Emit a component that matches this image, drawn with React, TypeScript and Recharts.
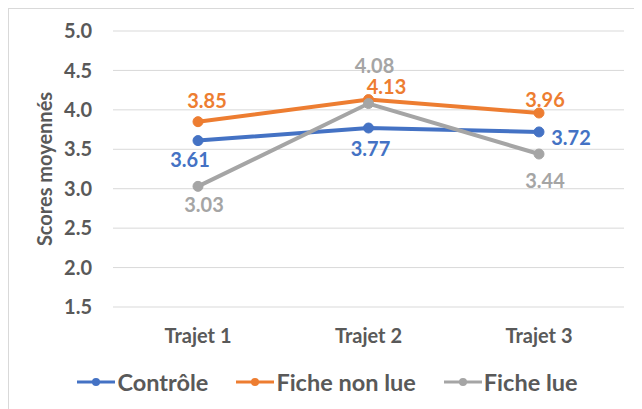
import { LineChart, Line, XAxis, YAxis, CartesianGrid, Legend, LabelList } from 'recharts';

const categories = ['Trajet 1', 'Trajet 2', 'Trajet 3'];
const controle = [3.61, 3.77, 3.72];
const ficheNonLue = [3.85, 4.13, 3.96];
const ficheLue = [3.03, 4.08, 3.44];
const yTicks = [1.5, 2.0, 2.5, 3.0, 3.5, 4.0, 4.5, 5.0];

const data = categories.map((name, i) => ({
  name,
  controle: controle[i],
  ficheNonLue: ficheNonLue[i],
  ficheLue: ficheLue[i],
}));

const FONT = 'Lato, "Open Sans", sans-serif';
const TEXT = '#595959';

const series = [
  { key: 'controle', name: 'Contrôle', color: '#4472C4', offsets: [[-8, 18], [2, 20], [32, 5]] },
  { key: 'ficheNonLue', name: 'Fiche non lue', color: '#ED7D31', offsets: [[9, -22], [18, -14], [6, -14]] },
  { key: 'ficheLue', name: 'Fiche lue', color: '#A5A5A5', offsets: [[6, 18], [6, -39], [6, 26]] },
];

function makeLabel(color: string, offsets: number[][]) {
  return (props: any) => {
    const { x, y, value, index } = props;
    const [dx, dy] = offsets[index] || [0, 0];
    return (
      <text
        x={x + dx}
        y={y + dy}
        textAnchor="middle"
        dominantBaseline="central"
        fill={color}
        fontSize={20}
        fontWeight={700}
        fontFamily={FONT}
      >
        {Number(value).toFixed(2)}
      </text>
    );
  };
}

function LegendContent() {
  return (
    <div
      style={{
        height: 62,
        paddingTop: 8,
        paddingLeft: 22,
        boxSizing: 'border-box',
        display: 'flex',
        alignItems: 'center',
        justifyContent: 'center',
        gap: 28,
        fontFamily: FONT,
        fontSize: 23.5,
        fontWeight: 700,
        color: TEXT,
      }}
    >
      {series.map((s) => (
        <div key={s.key} style={{ display: 'flex', alignItems: 'center' }}>
          <svg width={38} height={12} style={{ marginRight: 2 }}>
            <line x1={0} y1={6} x2={38} y2={6} stroke={s.color} strokeWidth={3} />
            <circle cx={19} cy={6} r={4} fill={s.color} />
          </svg>
          <span>{s.name}</span>
        </div>
      ))}
    </div>
  );
}

export default function App() {
  return (
    <div style={{ width: 632, height: 400, border: '1px solid #d9d9d9', background: '#fff' }}>
      <LineChart width={632} height={400} data={data} margin={{ top: 22, right: 17, left: 0, bottom: 0 }}>
        <CartesianGrid vertical={false} stroke="#d9d9d9" strokeWidth={1} />
        <XAxis
          dataKey="name"
          axisLine={false}
          tickLine={false}
          tickSize={0}
          tickMargin={22}
          height={40}
          padding={{ left: 85, right: 85 }}
          tick={{ fontSize: 20, fontWeight: 700, fill: TEXT, fontFamily: FONT }}
        />
        <YAxis
          domain={[1.5, 5]}
          ticks={yTicks}
          width={104}
          axisLine={false}
          tickLine={false}
          tickSize={0}
          tickMargin={21}
          tickFormatter={(v: number) => v.toFixed(1)}
          tick={{ fontSize: 20, fontWeight: 700, fill: TEXT, fontFamily: FONT }}
          label={{
            value: 'Scores moyennés',
            angle: -90,
            position: 'center',
            dx: -16,
            style: { fontSize: 20, fontWeight: 700, fill: TEXT, fontFamily: FONT },
          }}
        />
        <Legend verticalAlign="bottom" content={<LegendContent />} />
        {series.map((s) => (
          <Line
            key={s.key}
            dataKey={s.key}
            name={s.name}
            stroke={s.color}
            strokeWidth={4}
            dot={{ r: 5, fill: s.color, stroke: s.color, strokeWidth: 1 }}
            isAnimationActive={false}
          >
            <LabelList dataKey={s.key} content={makeLabel(s.color, s.offsets)} />
          </Line>
        ))}
      </LineChart>
    </div>
  );
}
